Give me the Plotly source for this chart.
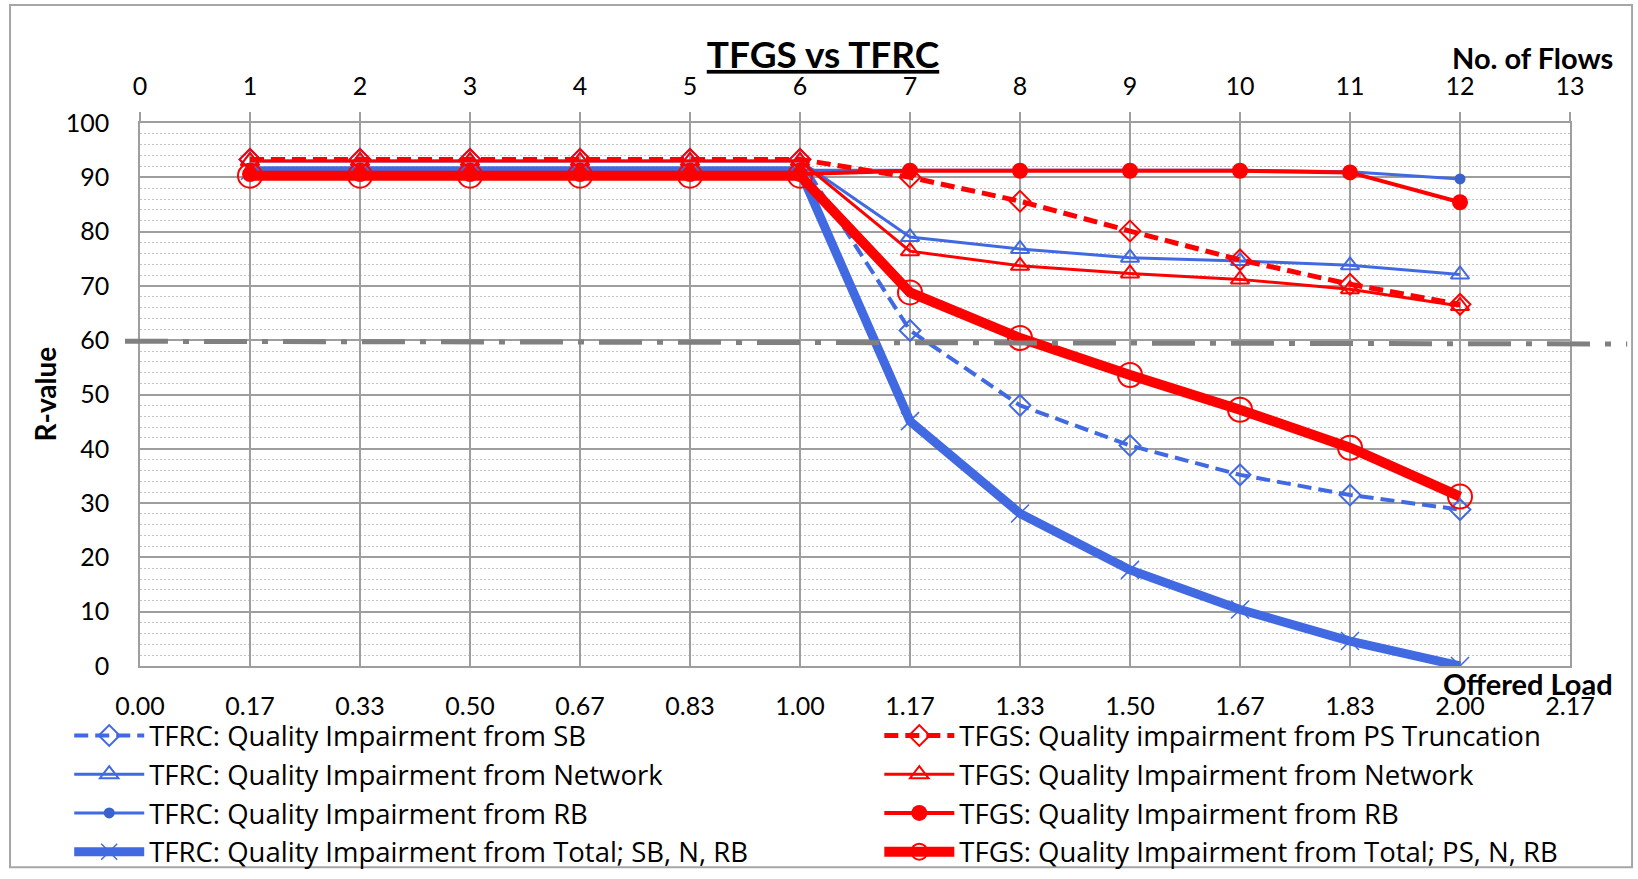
import plotly.graph_objects as go

# Number of flows (top axis) and offered load labels (bottom axis)
flows = [1, 2, 3, 4, 5, 6, 7, 8, 9, 10, 11, 12]
flow_ticks = [0, 1, 2, 3, 4, 5, 6, 7, 8, 9, 10, 11, 12, 13]
load_labels = ["0.00", "0.17", "0.33", "0.50", "0.67", "0.83", "1.00",
               "1.17", "1.33", "1.50", "1.67", "1.83", "2.00", "2.17"]

# R-values per series
tfrc_sb = [93.3, 93.3, 93.3, 93.3, 93.3, 93.3, 61.8, 48.0, 40.6, 35.2, 31.5, 28.8]
tfrc_net = [93.0, 93.0, 93.0, 93.0, 93.0, 93.0, 79.0, 76.8, 75.2, 74.6, 73.8, 72.1]
tfrc_rb = [91.3, 91.3, 91.3, 91.3, 91.3, 91.3, 91.3, 91.3, 91.3, 91.3, 91.0, 89.7]
tfrc_total = [91.2, 91.2, 91.2, 91.2, 91.2, 91.2, 45.1, 28.1, 17.7, 10.4, 4.6, 0.0]

tfgs_ps = [93.3, 93.3, 93.3, 93.3, 93.3, 93.3, 90.0, 85.6, 80.1, 74.8, 70.3, 66.6]
tfgs_net = [93.0, 93.0, 93.0, 93.0, 93.0, 93.0, 76.4, 73.7, 72.3, 71.2, 69.4, 66.3]
tfgs_rb = [90.6, 90.6, 90.6, 90.6, 90.6, 90.6, 91.2, 91.2, 91.2, 91.2, 90.9, 85.4]
tfgs_total = [90.3, 90.3, 90.3, 90.3, 90.3, 90.3, 68.8, 60.4, 53.6, 47.2, 40.2, 31.2]

threshold = 60

BLUE = "#4169E1"
BLUE_DOT = "#3A62CC"
RED = "#FF0000"
GRID = "#9E9E9E"
MINOR = "#C4C4C4"
FONT = "Lato, 'Liberation Sans', sans-serif"
LEGEND_FONT = "'Open Sans', Lato, sans-serif"

fig = go.Figure()

# TFRC series (bottom/left axes, left legend)
fig.add_trace(go.Scatter(
    x=flows, y=tfrc_sb, name="TFRC: Quality Impairment from SB", mode="lines+markers",
    line=dict(color=BLUE, width=4, dash="14px,7px"),
    marker=dict(symbol="diamond-open", size=16, color=BLUE, line=dict(width=2, color=BLUE)),
    legend="legend"))
fig.add_trace(go.Scatter(
    x=flows, y=tfrc_net, name="TFRC: Quality Impairment from Network", mode="lines+markers",
    line=dict(color=BLUE, width=3),
    marker=dict(symbol="triangle-up-open", size=16, color=BLUE, line=dict(width=2, color=BLUE)),
    legend="legend"))
fig.add_trace(go.Scatter(
    x=flows, y=tfrc_rb, name="TFRC: Quality Impairment from RB", mode="lines+markers",
    line=dict(color=BLUE, width=3),
    marker=dict(symbol="circle", size=11, color=BLUE_DOT),
    legend="legend"))
fig.add_trace(go.Scatter(
    x=flows, y=tfrc_total, name="TFRC: Quality Impairment from Total; SB, N, RB", mode="lines+markers",
    line=dict(color=BLUE, width=9),
    marker=dict(symbol="x-thin-open", size=18, color=BLUE, line=dict(width=1.5, color=BLUE)),
    legend="legend"))

# TFGS series (top axis overlay, right legend)
fig.add_trace(go.Scatter(
    x=flows, y=tfgs_ps, name="TFGS: Quality impairment from PS Truncation", mode="lines+markers",
    xaxis="x2", line=dict(color=RED, width=5, dash="14px,7px"),
    marker=dict(symbol="diamond-open", size=16, color=RED, line=dict(width=2, color=RED)),
    legend="legend2"))
fig.add_trace(go.Scatter(
    x=flows, y=tfgs_net, name="TFGS: Quality Impairment from Network", mode="lines+markers",
    xaxis="x2", line=dict(color=RED, width=3),
    marker=dict(symbol="triangle-up-open", size=16, color=RED, line=dict(width=2, color=RED)),
    legend="legend2"))
fig.add_trace(go.Scatter(
    x=flows, y=tfgs_rb, name="TFGS: Quality Impairment from RB", mode="lines+markers",
    xaxis="x2", line=dict(color=RED, width=4),
    marker=dict(symbol="circle", size=16, color=RED),
    legend="legend2"))
fig.add_trace(go.Scatter(
    x=flows, y=tfgs_total, name="TFGS: Quality Impairment from Total; PS, N, RB", mode="lines+markers",
    xaxis="x2", line=dict(color=RED, width=10),
    marker=dict(symbol="circle-open", size=24, color=RED, line=dict(width=2, color=RED)),
    legend="legend2"))

# Acceptability threshold
fig.add_shape(type="line", xref="paper", yref="y",
              x0=-0.0105, x1=1.04, y0=threshold - 0.2, y1=threshold - 0.7,
              line=dict(color="#808080", width=5, dash="43px,15px,6px,15px"))

# Outer chart border
fig.add_shape(type="rect", xref="paper", yref="paper",
              x0=-0.0909, x1=1.0434, y0=-0.3707, y1=1.2171,
              line=dict(color="#A6A6A6", width=2), layer="below")

axis_font = dict(family=FONT, size=25, color="black")
legend_font = dict(family=LEGEND_FONT, size=27.5, color="black")

fig.update_layout(
    width=1638, height=879,
    margin=dict(l=140, r=68, t=123, b=212.5, autoexpand=False),
    paper_bgcolor="white", plot_bgcolor="white",
    title=dict(text="<b><u>TFGS vs TFRC</u></b>", x=823 / 1638, xref="container",
               xanchor="center", y=1 - 55 / 879, yanchor="middle",
               font=dict(family=FONT, size=37, color="black")),
    xaxis=dict(range=[0, 13], tickvals=flow_ticks, ticktext=load_labels,
               showgrid=True, gridcolor=GRID, gridwidth=1.5,
               showline=True, linecolor=GRID, linewidth=1.5, mirror=True,
               zeroline=False, ticks="", ticklabelstandoff=17, tickfont=axis_font),
    xaxis2=dict(range=[0, 13], tickvals=flow_ticks, overlaying="x", side="top",
                anchor="y", showgrid=False, zeroline=False, showline=False,
                ticks="outside", ticklen=10, tickwidth=1.5, tickcolor=GRID,
                ticklabelstandoff=7, tickfont=axis_font),
    yaxis=dict(range=[0, 100], dtick=10, showgrid=True, gridcolor=GRID, gridwidth=1.5,
               showline=True, linecolor=GRID, linewidth=1.5, mirror=True,
               zeroline=False, ticks="", ticklabelstandoff=24, tickfont=axis_font,
               minor=dict(dtick=2, showgrid=True, gridcolor=MINOR, gridwidth=1.2,
                          griddash="2px,2px")),
    legend=dict(x=-0.0495, xanchor="left", y=-0.083, yanchor="top",
                orientation="v", itemwidth=70, font=legend_font,
                bgcolor="rgba(0,0,0,0)", tracegroupgap=0),
    legend2=dict(x=0.517, xanchor="left", y=-0.083, yanchor="top",
                 orientation="v", itemwidth=70, font=legend_font,
                 bgcolor="rgba(0,0,0,0)", tracegroupgap=0),
    showlegend=True,
)

bold = dict(family=FONT, size=29, color="black")
fig.add_annotation(text="<b>No. of Flows</b>", xref="paper", yref="paper",
                   x=1.0315, y=1.12, xanchor="right", yanchor="middle",
                   showarrow=False, font=bold)
fig.add_annotation(text="<b>Offered Load</b>", xref="paper", yref="paper",
                   x=1.0315, y=-0.0322, xanchor="right", yanchor="middle",
                   showarrow=False, font=bold)
fig.add_annotation(text="<b>R-value</b>", xref="paper", yref="paper",
                   x=-0.0671, y=0.5, xanchor="center", yanchor="middle",
                   textangle=-90, showarrow=False, font=dict(family=FONT, size=28, color="black"))
fig.add_annotation(text="<b>Fig. 5.1</b>", xref="paper", yref="paper",
                   x=(85 - 140) / 1430, y=(666.5 - 870) / 543.5,
                   xanchor="left", yanchor="top", showarrow=False, font=bold)

fig.write_html("out.html")
